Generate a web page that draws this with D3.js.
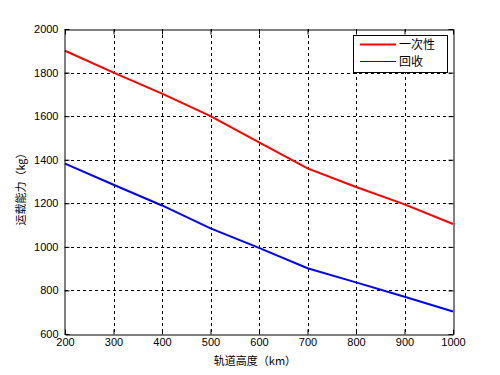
<!DOCTYPE html>
<html><head><meta charset="utf-8">
<script src="https://cdn.jsdelivr.net/npm/d3@7"></script>
<style>
body{margin:0;background:#fff;}
text{font-family:"Liberation Sans",Arial,sans-serif;}
</style></head>
<body><svg id="c" width="500" height="375"></svg>
<script>
const altitudes = [200, 300, 400, 500, 600, 700, 800, 900, 1000];
const disposable = [1900, 1800, 1703, 1600, 1480, 1360, 1275, 1195, 1105];
const recovery = [1382, 1285, 1190, 1085, 995, 902, 837, 771, 703];
const xTicks = [200, 300, 400, 500, 600, 700, 800, 900, 1000];
const yTicks = [600, 800, 1000, 1200, 1400, 1600, 1800, 2000];
const seriesNames = ["一次性", "回收"];
const xLabel = "轨道高度（km）";
const yLabel = "运载能力（kg）";

const svg = d3.select("#c");
const L = 65, R = 453, T = 29, B = 334;
const x = d3.scaleLinear().domain([200, 1000]).range([L, R]);
const y = d3.scaleLinear().domain([600, 2000]).range([B, T]);
const fmt = d3.format("d");

// grid
const g = svg.append("g");
g.selectAll(".vx").data(xTicks.slice(1, -1)).enter().append("line")
  .attr("x1", d => Math.round(x(d)) + 0.5).attr("x2", d => Math.round(x(d)) + 0.5)
  .attr("y1", T).attr("y2", B)
  .attr("stroke", "#000").attr("stroke-width", 1).attr("stroke-dasharray", "3,3");
g.selectAll(".hy").data(yTicks.slice(1, -1)).enter().append("line")
  .attr("y1", d => Math.round(y(d)) + 0.5).attr("y2", d => Math.round(y(d)) + 0.5)
  .attr("x1", L).attr("x2", R)
  .attr("stroke", "#000").attr("stroke-width", 1).attr("stroke-dasharray", "3,3");

// lines
const line = d3.line().x((d, i) => x(altitudes[i])).y(d => y(d));
svg.append("path").datum(disposable).attr("d", line)
  .attr("fill", "none").attr("stroke", "#ff0000").attr("stroke-width", 2);
svg.append("path").datum(recovery).attr("d", line)
  .attr("fill", "none").attr("stroke", "#0000ff").attr("stroke-width", 2);

// axes
const xAxis = d3.axisBottom(x).tickValues(xTicks).tickFormat(fmt).tickSizeInner(-5).tickSizeOuter(0).tickPadding(7);
const yAxis = d3.axisLeft(y).tickValues(yTicks).tickFormat(fmt).tickSizeInner(-5).tickSizeOuter(0).tickPadding(8);
const xa = svg.append("g").attr("transform", `translate(0,${B + 0.5})`).call(xAxis);
const ya = svg.append("g").attr("transform", `translate(${L - 0.5},0)`).call(yAxis);
const xt = svg.append("g").attr("transform", `translate(0,${T + 0.5})`).call(d3.axisTop(x).tickValues(xTicks).tickSizeInner(-5).tickSizeOuter(0).tickFormat(""));
const yr = svg.append("g").attr("transform", `translate(${R + 0.5},0)`).call(d3.axisRight(y).tickValues(yTicks).tickSizeInner(-5).tickSizeOuter(0).tickFormat(""));
[xa, ya, xt, yr].forEach(a => {
  a.selectAll("path").attr("stroke", "#000");
  a.selectAll("line").attr("stroke", "#000");
  a.selectAll("text").attr("fill", "#000").style("font-size", "11px").style("font-family", "Liberation Sans, Arial, sans-serif");
});
xa.selectAll("text").attr("dy", "0.45em");
ya.selectAll("text").attr("dx", "2px");

// axis labels
svg.append("text").attr("x", (L + R) / 2 - 4).attr("y", 365).attr("text-anchor", "middle")
  .style("font-size", "11px").style("font-family", "Noto Sans CJK SC, sans-serif").text(xLabel);
svg.append("text").attr("transform", `translate(25,${(T + B) / 2 + 5}) rotate(-90)`).attr("text-anchor", "middle")
  .style("font-size", "11px").style("font-family", "Noto Sans CJK SC, sans-serif").text(yLabel);

// legend
const lg = svg.append("g");
lg.append("rect").attr("x", 353.5).attr("y", 35.5).attr("width", 94).attr("height", 37)
  .attr("fill", "#fff").attr("stroke", "#000").attr("stroke-width", 1);
const legColors = ["#ff0000", "#0000ff"];
const legWidths = [2, 1];
seriesNames.forEach((n, i) => {
  const yy = 44.5 + i * 17;
  lg.append("line").attr("x1", 360).attr("x2", 396).attr("y1", yy).attr("y2", yy)
    .attr("stroke", legColors[i]).attr("stroke-width", legWidths[i]);
  lg.append("text").attr("x", 399).attr("y", yy + 4.5).style("font-size", "12px")
    .style("font-family", "Noto Sans CJK SC, sans-serif").text(n);
});
</script></body></html>
